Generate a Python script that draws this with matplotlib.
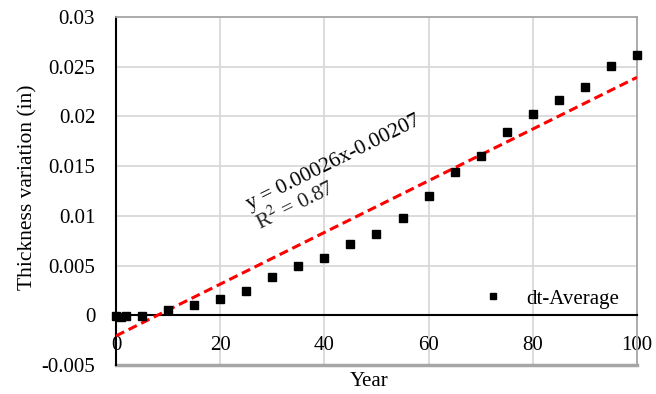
import matplotlib
matplotlib.use('Agg')
import matplotlib.pyplot as plt
import numpy as np

plt.rcParams['font.family'] = ['Liberation Serif', 'DejaVu Serif']
plt.rcParams['mathtext.fontset'] = 'stix'

# data
years = [0, 1, 2, 5, 10, 15, 20, 25, 30, 35, 40, 45, 50,
         55, 60, 65, 70, 75, 80, 85, 90, 95, 100]
dt_avg = [-0.0001, -0.00015, -0.0001, -0.0001, 0.0005, 0.001, 0.0016, 0.0024,
          0.0039, 0.005, 0.0058, 0.0072, 0.0082, 0.0098, 0.012, 0.0144,
          0.016, 0.0184, 0.0202, 0.0217, 0.023, 0.0251, 0.0262]
slope, intercept = 0.00026, -0.00207
eq_text = 'y = 0.00026x-0.00207'
r2_text = 'R$^2$ = 0.87'

fig = plt.figure(figsize=(6.56, 3.94), dpi=100)
ax = fig.add_axes([0.1768, 0.0736, 0.7942, 0.8833])

ax.set_xlim(0, 100)
ax.set_ylim(-0.005, 0.03)
ax.set_xticks(range(0, 101, 20))
ax.set_yticks(np.arange(-0.005, 0.0301, 0.005))
ax.set_yticklabels(['-0.005', '0', '0.005', '0.01', '0.015', '0.02', '0.025', '0.03'])
ax.grid(True, color='#d9d9d9', linewidth=1.3)
ax.set_axisbelow(True)
ax.tick_params(length=0, labelsize=15)
ax.yaxis.set_tick_params(pad=15)
ax.xaxis.set_tick_params(pad=15)

# excel-like axes: x axis crosses at y=0, gray plot border
ax.spines['bottom'].set_position(('data', 0))
ax.spines['bottom'].set_color('black')
ax.spines['bottom'].set_linewidth(1.5)
ax.spines['left'].set_color('black')
ax.spines['left'].set_linewidth(1.5)
for s in ['top', 'right']:
    ax.spines[s].set_color('#a6a6a6')
    ax.spines[s].set_linewidth(1.3)
ax.axhline(-0.005, color='#a6a6a6', linewidth=2.5, clip_on=False, zorder=1)

ax.plot(years, dt_avg, 's', color='black', markersize=5.5, label='dt-Average',
        clip_on=False, zorder=4)
xs = np.array([0, 100])
ax.plot(xs, slope * xs + intercept, '--', color='#ff0000', linewidth=2.2,
        dashes=(3, 1.6), zorder=3)

ax.text(25.7, 0.0106, eq_text, rotation=26.5, rotation_mode='anchor',
        ha='left', va='baseline', fontsize=15.5)
ax.text(27.6, 0.0086, r2_text, rotation=26.5, rotation_mode='anchor',
        ha='left', va='baseline', fontsize=15.5, color='#222222')

ax.set_xlabel('Year', fontsize=15)
ax.xaxis.set_label_coords(0.486, -0.02)
ax.set_ylabel('Thickness variation (in)', fontsize=15.5)
ax.yaxis.set_label_coords(-0.151, 0.51)

ax.legend(loc='center', bbox_to_anchor=(0.824, 0.19), frameon=False,
          fontsize=15, handletextpad=0.6, markerscale=0.8)

fig.savefig('out.png', dpi=100)
